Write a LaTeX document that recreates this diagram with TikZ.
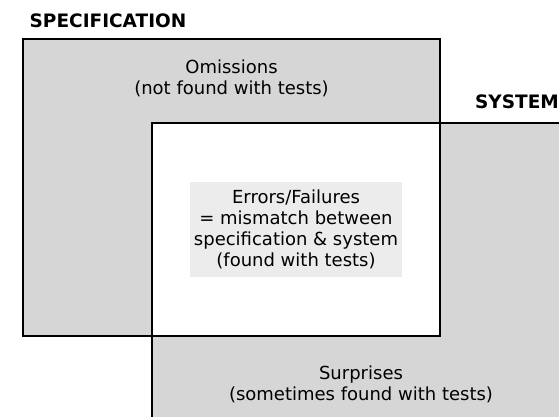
\documentclass[tikz,border=0pt]{standalone}
\usepackage{fontspec}
\setmainfont{DejaVu Sans}
\definecolor{areagray}{HTML}{D6D6D6}
\definecolor{innergray}{HTML}{ECECEC}
\begin{document}
\begin{tikzpicture}[x=1pt,y=1pt,
  border/.style={draw=black,line width=1.3pt},
  areatext/.style={align=center,inner sep=0pt,font=\fontsize{18}{20.8}\selectfont},
  setlabel/.style={inner sep=0pt,font=\fontsize{18.5}{20}\selectfont\bfseries}]
\useasboundingbox (0,0) rectangle (559,416);
\clip (0,0) rectangle (559,416);
% corners of the two sets
\coordinate (specSW) at (23,80);
\coordinate (specNE) at (440,377);
\coordinate (sysSW) at (152,-10);
\coordinate (sysNE) at (590,293);
% filled areas, overlap left white
\fill[areagray] (specSW) rectangle (specNE);
\fill[areagray] (sysSW) rectangle (sysNE);
\fill[white] (sysSW |- specSW) rectangle (specNE |- sysNE);
% outlines
\draw[border] (specSW) rectangle (specNE);
\draw[border] (sysSW) rectangle (sysNE);
% labels
\node[setlabel] (speclabel) at (108,395.7) {SPECIFICATION};
\node[setlabel] (syslabel) at (517,314.1) {SYSTEM};
\node[areatext] (omissions) at (231.5,337.5) {Omissions\\(not found with tests)};
\node[areatext] (surprises) at (361,31.5) {Surprises\\(sometimes found with tests)};
\node[areatext,fill=innergray,minimum width=212,minimum height=95] (errors) at (296,186.5)
  {Errors/Failures\\= mismatch between\\specification \& system\\(found with tests)};
\end{tikzpicture}
\end{document}
